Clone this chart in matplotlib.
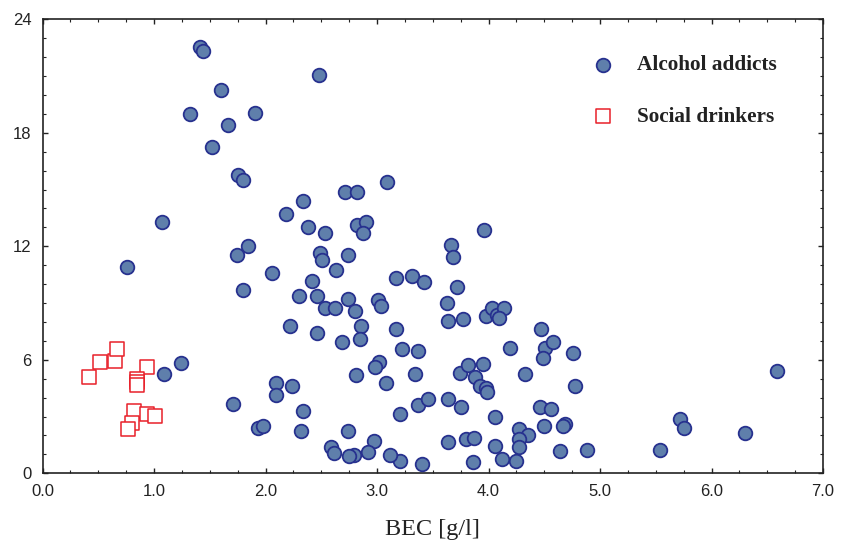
import matplotlib
matplotlib.use("Agg")
import matplotlib.pyplot as plt
from matplotlib.ticker import MultipleLocator, FormatStrFormatter

# Alcohol addicts (BEC [g/l], value)
addicts_bec = [1.41, 1.44, 2.48, 1.60, 1.91, 1.32, 1.66, 1.52, 1.75, 1.80,
               2.34, 2.71, 2.82, 3.09, 2.18, 2.38, 2.53, 2.82, 2.90, 2.87,
               3.96, 1.07, 1.84, 3.66, 3.68, 1.74, 2.49, 2.51, 2.74, 0.76,
               2.06, 2.63, 3.17, 3.31, 3.42, 3.72, 2.42, 1.80, 2.30, 2.46,
               2.53, 2.62, 2.74, 2.80, 3.01, 3.04, 3.63, 3.64, 3.77, 3.98,
               4.03, 4.08, 4.14, 4.09, 2.22, 2.46, 2.86, 2.85, 2.69, 3.17,
               3.22, 3.37, 4.47, 4.19, 4.51, 4.58, 4.49, 4.76, 1.24, 1.09,
               3.02, 2.98, 2.81, 3.08, 3.34, 3.74, 3.82, 3.95, 3.88, 3.92,
               3.98, 3.99, 4.33, 4.78, 2.09, 2.24, 2.09, 1.71, 2.34, 3.64,
               3.75, 3.37, 3.46, 3.21, 4.06, 4.46, 4.56, 1.93, 1.98, 2.32,
               4.50, 4.69, 4.67, 2.74, 4.27, 4.35, 4.27, 4.27, 4.25, 4.06,
               4.12, 4.64, 4.88, 3.80, 3.87, 3.64, 3.86, 3.40, 3.21, 3.12,
               2.97, 2.92, 2.79, 2.75, 2.59, 2.61, 5.54, 5.72, 5.75, 6.30,
               6.59]
addicts_val = [22.53, 22.30, 21.04, 20.26, 19.06, 18.99, 18.41, 17.25, 15.75, 15.49,
               14.39, 14.87, 14.87, 15.41, 13.69, 13.03, 12.72, 13.12, 13.28, 12.72,
               12.88, 13.28, 12.01, 12.05, 11.45, 11.54, 11.63, 11.27, 11.54, 10.90,
               10.57, 10.75, 10.34, 10.43, 10.11, 9.86, 10.18, 9.70, 9.39, 9.39,
               8.75, 8.75, 9.23, 8.59, 9.14, 8.84, 9.02, 8.05, 8.14, 8.33,
               8.72, 8.37, 8.72, 8.20, 7.80, 7.42, 7.80, 7.10, 6.92, 7.64,
               6.55, 6.46, 7.64, 6.61, 6.61, 6.94, 6.08, 6.37, 5.81, 5.26,
               5.90, 5.63, 5.20, 4.79, 5.26, 5.30, 5.75, 5.76, 5.11, 4.63,
               4.52, 4.31, 5.26, 4.63, 4.79, 4.63, 4.15, 3.68, 3.28, 3.91,
               3.52, 3.61, 3.91, 3.13, 2.98, 3.52, 3.38, 2.41, 2.50, 2.25,
               2.50, 2.59, 2.50, 2.25, 2.34, 2.02, 1.80, 1.37, 0.67, 1.46,
               0.76, 1.16, 1.23, 1.80, 1.87, 1.65, 0.60, 0.51, 0.67, 0.97,
               1.71, 1.14, 0.97, 0.91, 1.37, 1.06, 1.23, 2.89, 2.41, 2.11,
               5.42]

# Social drinkers
social_bec = [0.42, 0.52, 0.65, 0.67, 0.94, 0.85, 0.85, 0.85, 0.82, 0.94, 1.01, 0.80, 0.77]
social_val = [5.11, 5.90, 5.95, 6.55, 5.60, 5.01, 4.83, 4.65, 3.30, 3.13, 3.04, 2.67, 2.33]

series_labels = ["Alcohol addicts", "Social drinkers"]
x_label = "BEC [g/l]"

fig = plt.figure(figsize=(8.46, 5.44), dpi=100)
ax = fig.add_axes([42.5 / 846, 1 - 473.3 / 544, (823 - 42.5) / 846, (473.3 - 19.3) / 544])

h1 = ax.scatter(addicts_bec, addicts_val, s=96, marker='o', facecolor='#5f7fab',
                edgecolor='#27318f', linewidths=1.3, zorder=3, label=series_labels[0])
h2 = ax.scatter(social_bec, social_val, s=96, marker='s', facecolor='white',
                edgecolor='#e8202a', linewidths=1.1, zorder=4, label=series_labels[1])

ax.set_xlim(0, 7)
ax.set_ylim(0, 24)
ax.xaxis.set_major_locator(MultipleLocator(1))
ax.xaxis.set_minor_locator(MultipleLocator(0.25))
ax.yaxis.set_major_locator(MultipleLocator(6))
ax.yaxis.set_minor_locator(MultipleLocator(1))
ax.xaxis.set_major_formatter(FormatStrFormatter('%.1f'))
ax.yaxis.set_major_formatter(FormatStrFormatter('%d'))

ax.tick_params(which='both', direction='in', top=True, right=True, colors='#222222',
               labelcolor='#222222')
ax.tick_params(which='major', length=3.5, width=1.0)
ax.tick_params(which='minor', length=2.2, width=0.8)
ax.tick_params(axis='x', which='major', pad=8, labelsize=12)
ax.tick_params(axis='y', which='major', pad=8, labelsize=12)
for lab in ax.get_xticklabels() + ax.get_yticklabels():
    lab.set_fontfamily('Liberation Sans')
for sp in ax.spines.values():
    sp.set_linewidth(1.2)
    sp.set_color('#222222')

ax.set_xlabel(x_label, fontsize=17.5, family='Liberation Serif', color='#222222', labelpad=14)

leg = ax.legend(handles=[h1, h2], loc='upper left', bbox_to_anchor=(0.7048, 0.921),
                frameon=False, borderpad=0, borderaxespad=0, handlelength=1.0,
                handletextpad=1.1, labelspacing=1.5,
                prop={'family': 'Liberation Serif', 'weight': 'bold', 'size': 15.3})
for t in leg.get_texts():
    t.set_color('#222222')

fig.savefig('out.png', dpi=100)
